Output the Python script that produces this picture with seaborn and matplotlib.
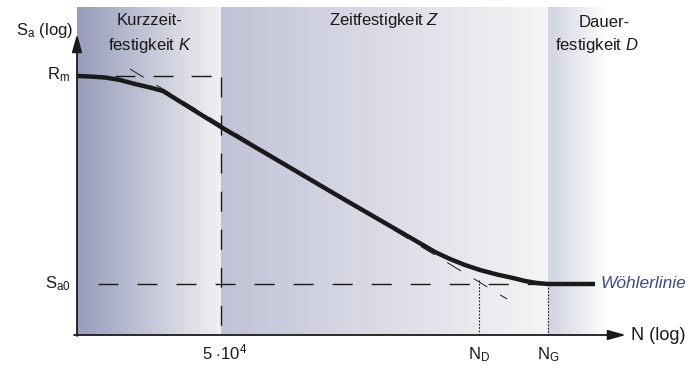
import numpy as np
import pandas as pd
import matplotlib
matplotlib.use("Agg")
import matplotlib.pyplot as plt
import seaborn as sns
from matplotlib.colors import LinearSegmentedColormap

# ---- data (chart units: x = log N position, y = log S position, y grows downward) ----
curve_x = [77, 90, 105, 120, 135, 150, 163, 221, 340, 423, 435, 450, 465, 480,
           497, 513, 525, 537, 548, 595]
curve_y = [76, 76.5, 77.5, 80, 84, 87.5, 91, 127, 197, 245, 252, 259, 265, 270,
           274.5, 278, 281, 283, 284, 284]

basquin_x = [130, 507]
basquin_y = [69, 299]

region_edges = [77, 221, 548, 608]
region_names = ["Kurzzeit-", "Zeitfestigkeit", "Dauer-"]
region_left_colors = ["#969cba", "#c0c3d6", "#d0d3e1"]
region_right_colors = ["#f1f1f3", "#f5f5f6", "#ffffff"]

y_Rm = 76
y_Sa0 = 284
x_5e4 = 221
x_ND = 479
x_NG = 548

sns.set_theme(style="white")
plt.rcParams["font.family"] = ["Liberation Sans", "DejaVu Sans"]
plt.rcParams["mathtext.fontset"] = "custom"
plt.rcParams["mathtext.rm"] = "Liberation Sans"
plt.rcParams["mathtext.it"] = "Liberation Sans:italic"
plt.rcParams["lines.scale_dashes"] = False

fig = plt.figure(figsize=(6.99, 3.74), dpi=100)
ax = fig.add_axes([0, 0, 1, 1])
ax.set_xlim(0, 699)
ax.set_ylim(374, 0)
ax.axis("off")

top, bottom = 7, 335
grad = np.linspace(0, 1, 256).reshape(1, -1)
for i in range(3):
    cmap = LinearSegmentedColormap.from_list("g%d" % i, [region_left_colors[i], region_right_colors[i]])
    ax.imshow(grad, cmap=cmap, aspect="auto",
              extent=[region_edges[i], region_edges[i + 1], bottom, top], zorder=0)
ax.set_xlim(0, 699)
ax.set_ylim(374, 0)

# dashed guide lines
ax.plot([115, x_5e4], [y_Rm, y_Rm], color="k", lw=1.0, ls=(0, (14.4, 13.0)), zorder=2)
ax.plot([x_5e4, x_5e4], [y_Rm + 1, bottom], color="k", lw=1.0, ls=(0, (14.4, 13.0)), zorder=2)
ax.plot([98, x_NG], [y_Sa0, y_Sa0], color="k", lw=1.0, ls=(0, (14.4, 13.7)), zorder=2)
# dotted verticals
ax.plot([x_ND, x_ND], [280, bottom], color="k", lw=0.8, ls=(0, (1.2, 1.2)), zorder=2)
ax.plot([x_NG, x_NG], [y_Sa0, bottom], color="k", lw=0.8, ls=(0, (1.2, 1.2)), zorder=2)
# thin straight-line extension
ax.plot(basquin_x, basquin_y, color="k", lw=0.7, ls=(0, (11.5, 10.8)), zorder=2)

# Wöhler curve
df = pd.DataFrame({"x": curve_x, "y": curve_y})
sns.lineplot(data=df, x="x", y="y", ax=ax, color="k", lw=3.2, sort=False,
             estimator=None, zorder=3, solid_joinstyle="round", solid_capstyle="butt")
ax.set_xlabel("")
ax.set_ylabel("")

# axes arrows
ax.annotate("", xy=(626, bottom), xytext=(74, bottom),
            arrowprops=dict(arrowstyle="-|>,head_length=0.9,head_width=0.25",
                            lw=1.3, color="k", shrinkA=0, shrinkB=0), zorder=4)
ax.annotate("", xy=(77, 34), xytext=(77, bottom + 1),
            arrowprops=dict(arrowstyle="-|>,head_length=0.9,head_width=0.25",
                            lw=1.3, color="k", shrinkA=0, shrinkB=0), zorder=4)

fs = 12
tc = "#1a1a1a"
ax.text(16, 30, r"$\mathrm{S_a}$ (log)", fontsize=fs, color=tc, ha="left", va="center")
ax.text(70, 75, r"$\mathrm{R_m}$", fontsize=fs, color=tc, ha="right", va="center")
ax.text(71, 284, r"$\mathrm{S_{a0}}$", fontsize=fs, color=tc, ha="right", va="center")
ax.text(x_5e4 + 4, 352, r"5 $\cdot\mathrm{10^4}$", fontsize=fs, color=tc, ha="center", va="center")
ax.text(x_ND, 355, r"$\mathrm{N_D}$", fontsize=fs, color=tc, ha="center", va="center")
ax.text(x_NG, 355, r"$\mathrm{N_G}$", fontsize=fs, color=tc, ha="center", va="center")
ax.text(631, 335, "N (log)", fontsize=13, color=tc, ha="left", va="center")
ax.text(601, 284, "Wöhlerlinie", fontsize=12.5, color="#3b4a8c", style="italic",
        ha="left", va="center")

ax.text(150, 20, region_names[0], fontsize=fs, color=tc, ha="center", va="center")
ax.text(150, 45, r"festigkeit $\mathit{K}$", fontsize=fs, color=tc, ha="center", va="center")
ax.text(384, 20, region_names[1] + r" $\mathit{Z}$", fontsize=fs, color=tc, ha="center", va="center")
ax.text(604, 22, region_names[2], fontsize=fs, color=tc, ha="center", va="center")
ax.text(597, 45, r"festigkeit $\mathit{D}$", fontsize=fs, color=tc, ha="center", va="center")

fig.savefig("out.png", dpi=100)
